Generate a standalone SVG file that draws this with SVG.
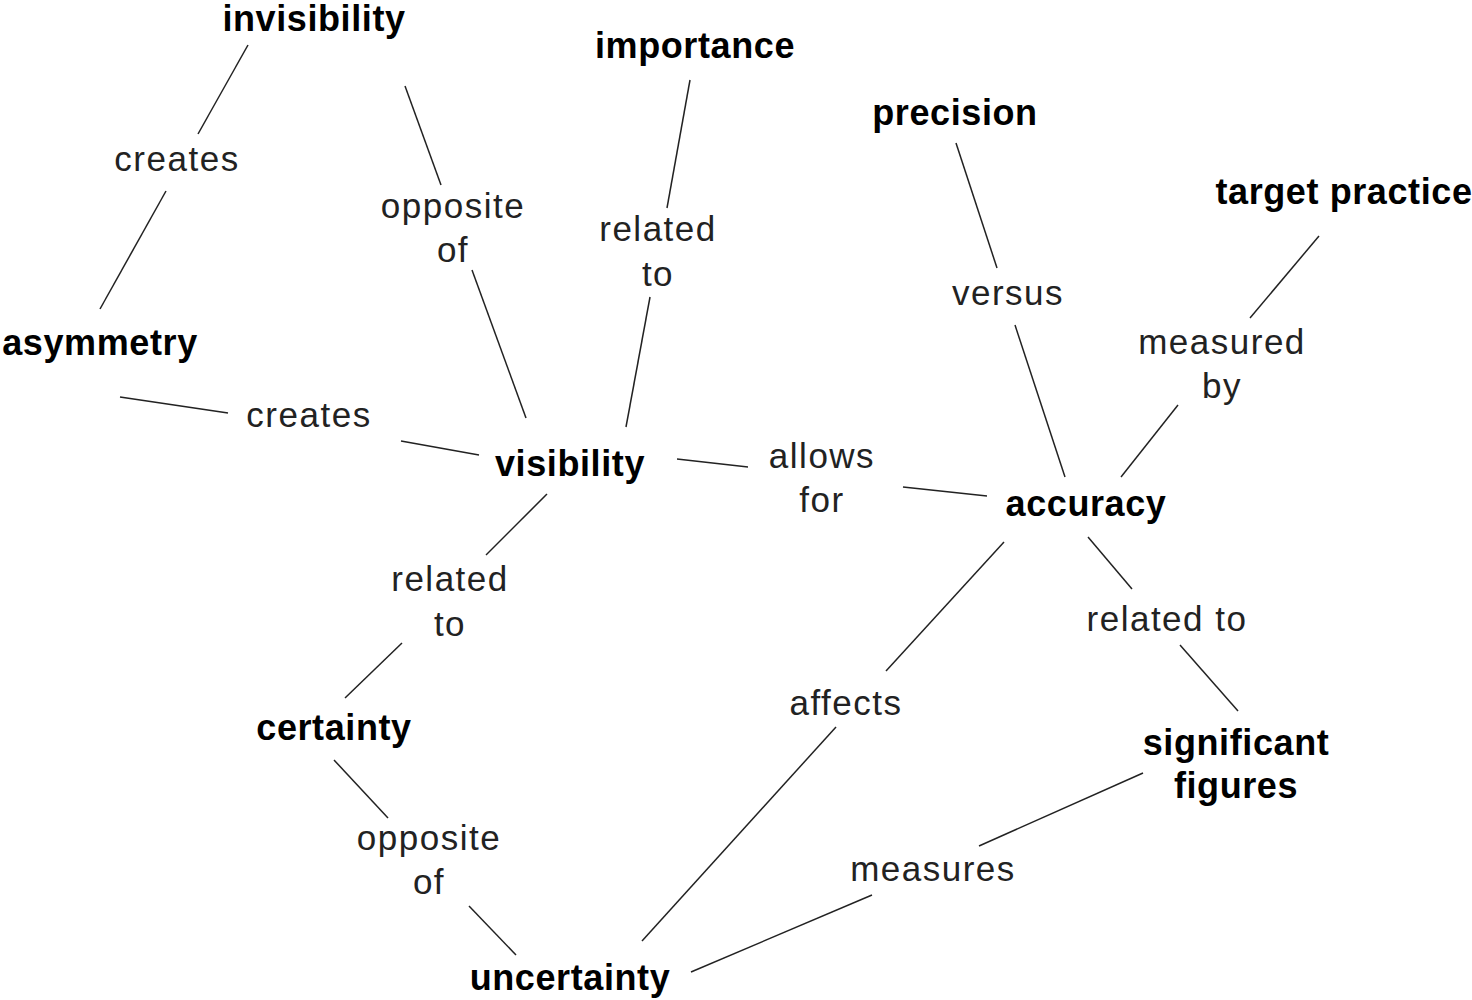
<svg xmlns="http://www.w3.org/2000/svg" width="1472" height="1000" viewBox="0 0 1472 1000">
<style>
.n{font-family:"Liberation Sans",Arial,sans-serif;font-weight:bold;font-size:36px;letter-spacing:0.6px;fill:#000;text-anchor:middle}
.l{font-family:"Liberation Sans",Arial,sans-serif;font-size:35px;letter-spacing:1.5px;fill:#222;text-anchor:middle}
.c line{stroke:#222;stroke-width:1.5;fill:none}
</style>
<rect width="1472" height="1000" fill="#fff"/>
<g class="c" id="connectors">
<line x1="248" y1="45" x2="198" y2="134"/>
<line x1="166" y1="191" x2="100" y2="309"/>
<line x1="405" y1="86" x2="441" y2="185"/>
<line x1="472" y1="270" x2="526" y2="418"/>
<line x1="690" y1="80" x2="667" y2="208"/>
<line x1="650" y1="297" x2="626" y2="427"/>
<line x1="120" y1="397" x2="228" y2="413"/>
<line x1="401" y1="441" x2="479" y2="455"/>
<line x1="677" y1="459" x2="748" y2="467"/>
<line x1="903" y1="487" x2="987" y2="496"/>
<line x1="956" y1="143" x2="997" y2="268"/>
<line x1="1015" y1="325" x2="1065" y2="477"/>
<line x1="1319" y1="236" x2="1250" y2="318"/>
<line x1="1178" y1="405" x2="1121" y2="477"/>
<line x1="547" y1="494" x2="486" y2="555"/>
<line x1="402" y1="643" x2="345" y2="698"/>
<line x1="1004" y1="542" x2="886" y2="671"/>
<line x1="836" y1="727" x2="642" y2="941"/>
<line x1="1088" y1="537" x2="1132" y2="589"/>
<line x1="1180" y1="645" x2="1238" y2="711"/>
<line x1="334" y1="760" x2="388" y2="818"/>
<line x1="469" y1="906" x2="516" y2="955"/>
<line x1="1143" y1="773" x2="979" y2="846"/>
<line x1="872" y1="895" x2="691" y2="972"/>
</g>
<g id="labels">
<text class="l" x="177" y="171">creates</text>
<text class="l" x="453" y="218">opposite</text>
<text class="l" x="453" y="262">of</text>
<text class="l" x="658" y="241">related</text>
<text class="l" x="658" y="286">to</text>
<text class="l" x="1008" y="305">versus</text>
<text class="l" x="1222" y="354">measured</text>
<text class="l" x="1222" y="398">by</text>
<text class="l" x="309" y="427">creates</text>
<text class="l" x="822" y="468">allows</text>
<text class="l" x="822" y="512">for</text>
<text class="l" x="450" y="591">related</text>
<text class="l" x="450" y="636">to</text>
<text class="l" x="1167" y="631">related to</text>
<text class="l" x="846" y="715">affects</text>
<text class="l" x="429" y="850">opposite</text>
<text class="l" x="429" y="894">of</text>
<text class="l" x="933" y="881">measures</text>
</g>
<g id="invisibility"><text class="n" x="314" y="31">invisibility</text></g>
<g id="importance"><text class="n" x="695" y="58">importance</text></g>
<g id="precision"><text class="n" x="955" y="125">precision</text></g>
<g id="target-practice"><text class="n" x="1344" y="204">target practice</text></g>
<g id="asymmetry"><text class="n" x="100" y="355">asymmetry</text></g>
<g id="visibility"><text class="n" x="570" y="476">visibility</text></g>
<g id="accuracy"><text class="n" x="1086" y="516">accuracy</text></g>
<g id="certainty"><text class="n" x="334" y="740">certainty</text></g>
<g id="significant-figures"><text class="n" x="1236" y="755">significant</text><text class="n" x="1236" y="798">figures</text></g>
<g id="uncertainty"><text class="n" x="570" y="990">uncertainty</text></g>
</svg>
